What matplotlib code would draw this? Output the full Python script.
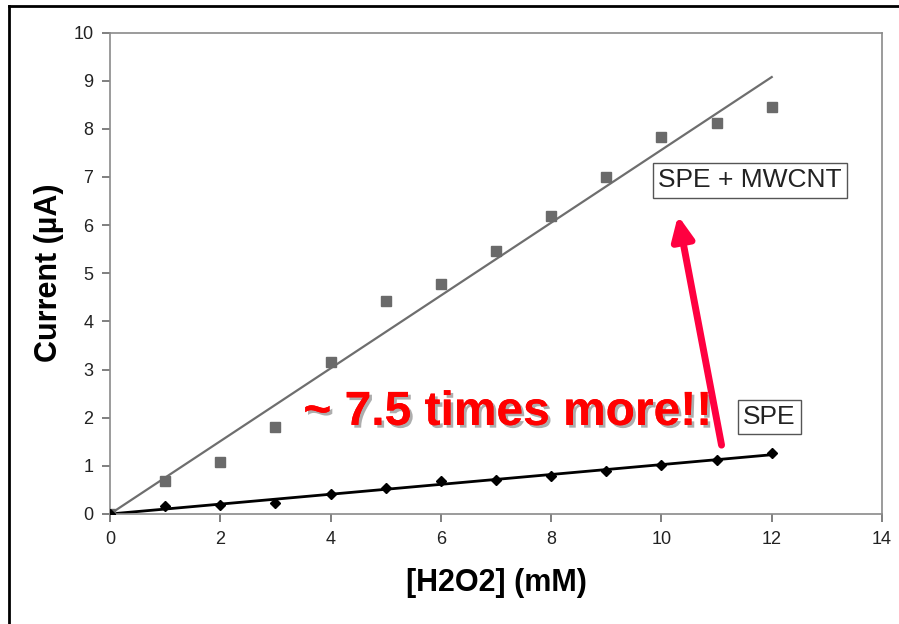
import numpy as np
import matplotlib
matplotlib.use("Agg")
import matplotlib.pyplot as plt
from matplotlib.lines import Line2D
import matplotlib.patheffects as pe

conc = [0, 1, 2, 3, 4, 5, 6, 7, 8, 9, 10, 11, 12]
spe_mwcnt = [0, 0.69, 1.08, 1.81, 3.16, 4.42, 4.78, 5.46, 6.19, 7.0, 7.84, 8.12, 8.45]
spe = [0, 0.17, 0.19, 0.22, 0.41, 0.55, 0.68, 0.71, 0.78, 0.89, 1.02, 1.12, 1.27]

plt.rcParams['font.family'] = ['Liberation Sans', 'DejaVu Sans']

fig = plt.figure(figsize=(8.99, 6.24), dpi=100)
fig.set_facecolor('white')
ax = fig.add_axes([0.1224, 0.1763, 0.8587, 0.7716])

x = np.array(conc, dtype=float)

# linear trendlines forced through the origin
def slope0(y):
    y = np.array(y, dtype=float)
    return (x * y).sum() / (x * x).sum()

k1 = slope0(spe_mwcnt)
k2 = slope0(spe)
xf = np.array([0, 12])

ax.plot(xf, k1 * xf, color='#6e6e6e', lw=1.6, zorder=2)
ax.plot(conc, spe_mwcnt, ls='none', marker='s', ms=7, color='#6a6a6a', zorder=3)
ax.plot(xf, k2 * xf, color='black', lw=2.0, zorder=2)
ax.plot(conc, spe, ls='none', marker='D', ms=5.5, color='black', zorder=3)

ax.set_xlim(0, 14)
ax.set_ylim(0, 10)
ax.set_xticks(range(0, 15, 2))
ax.set_yticks(range(0, 11))
for s in ax.spines.values():
    s.set_color('#8a8a8a')
    s.set_linewidth(1.2)
ax.tick_params(direction='out', length=6, width=1.2, color='#6a6a6a',
               labelsize=13, labelcolor='#222222', pad=6)

ax.set_xlabel('[H2O2] (mM)', fontsize=22, fontweight='bold', labelpad=15)
ax.set_ylabel('Current (µA)', fontsize=22, fontweight='bold', labelpad=7)

box = dict(boxstyle='square,pad=0.2', fc='white', ec='#555555', lw=1)
ax.text(9.94, 6.93, 'SPE + MWCNT', fontsize=19, color='#222222', ha='left', va='center', bbox=box)
ax.text(11.48, 2.01, 'SPE', fontsize=19, color='#222222', ha='left', va='center', bbox=box)

ax.text(7.21, 2.11, '~ 7.5 times more!!', fontsize=34.5, fontweight='bold', color='#ff0000',
        ha='center', va='center', zorder=5,
        path_effects=[pe.withSimplePatchShadow(offset=(2, -2), shadow_rgbFace='#999999', alpha=0.8),
                      pe.Normal()])

ax.annotate('', xy=(10.3, 6.2), xytext=(11.09, 1.43),
            arrowprops=dict(arrowstyle='-|>,head_length=1.4,head_width=0.65',
                            color='#ff0040', lw=5, shrinkA=0, shrinkB=0),
            zorder=6)

# outer frame (left and top)
fig.add_artist(Line2D([0.01, 0.01], [0, 0.9904], transform=fig.transFigure, color='black', lw=2))
fig.add_artist(Line2D([0.01, 0.999], [0.9904, 0.9904], transform=fig.transFigure, color='black', lw=2))

fig.savefig('out.png', dpi=100)
